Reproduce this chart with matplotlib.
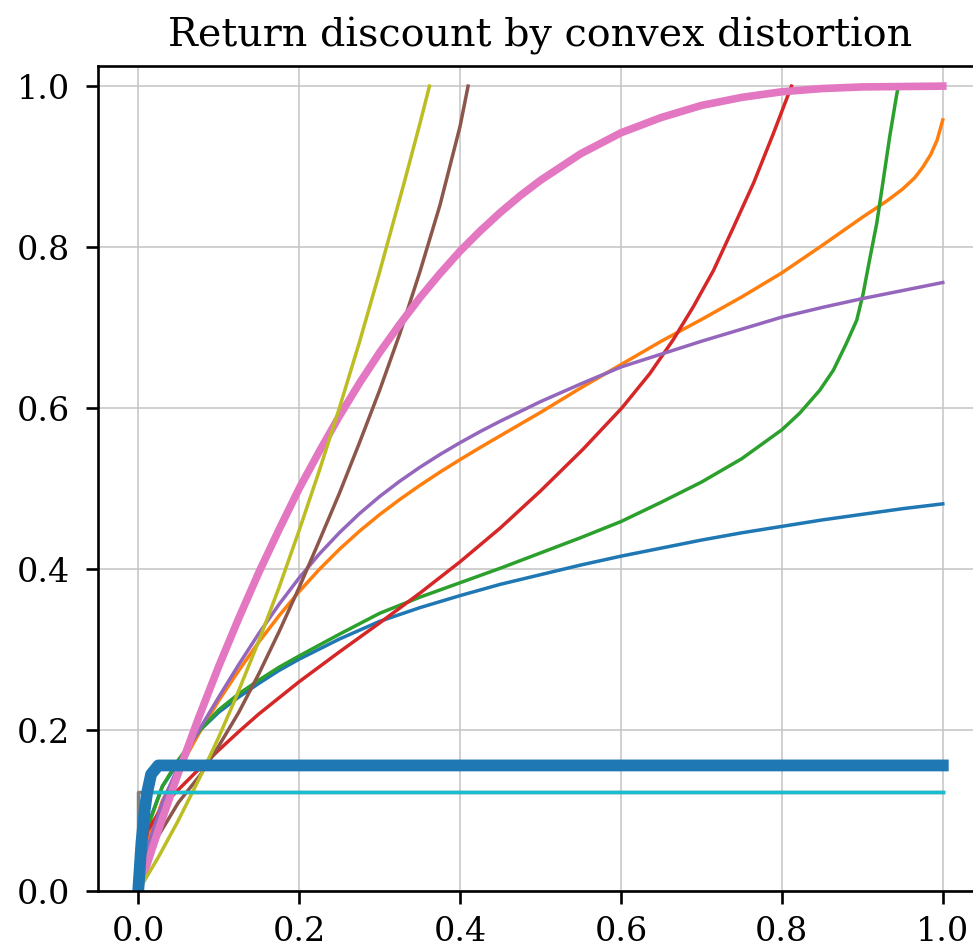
import matplotlib
matplotlib.use("Agg")
import matplotlib.pyplot as plt

# ---- data ----
blue_x = [0, 0.005, 0.015, 0.03, 0.05, 0.077, 0.1, 0.125, 0.15, 0.175, 0.2, 0.25, 0.3, 0.35,
          0.4, 0.45, 0.5, 0.55, 0.6, 0.65, 0.7, 0.75, 0.8, 0.85, 0.9, 0.95, 1.0]
blue_y = [0, 0.05, 0.09, 0.13, 0.16, 0.2, 0.222, 0.241, 0.258, 0.274, 0.288, 0.313, 0.335,
          0.352, 0.367, 0.381, 0.393, 0.405, 0.416, 0.426, 0.436, 0.445, 0.453, 0.461, 0.468,
          0.475, 0.481]

orange_x = [0, 0.005, 0.015, 0.03, 0.05, 0.075, 0.1, 0.125, 0.15, 0.175, 0.2, 0.225, 0.25,
            0.275, 0.3, 0.325, 0.35, 0.375, 0.4, 0.425, 0.45, 0.5, 0.55, 0.6, 0.65, 0.7, 0.75,
            0.8, 0.85, 0.9, 0.93, 0.95, 0.965, 0.975, 0.985, 0.993, 1.0]
orange_y = [0, 0.035, 0.07, 0.112, 0.15, 0.195, 0.2365, 0.274, 0.3095, 0.342, 0.372, 0.3995,
            0.4245, 0.4471, 0.4676, 0.4864, 0.5039, 0.5204, 0.536, 0.551, 0.5656, 0.5946,
            0.625, 0.654, 0.683, 0.71, 0.738, 0.768, 0.802, 0.837, 0.857, 0.872, 0.886, 0.899,
            0.915, 0.933, 0.958]

green_x = [0, 0.005, 0.015, 0.03, 0.05, 0.077, 0.1, 0.125, 0.15, 0.175, 0.2, 0.25, 0.3, 0.35,
           0.4, 0.45, 0.5, 0.55, 0.6, 0.65, 0.7, 0.75, 0.8, 0.822, 0.847, 0.864, 0.88, 0.893,
           0.901, 0.909, 0.918, 0.926, 0.934, 0.943, 0.945]
green_y = [0, 0.05, 0.088, 0.13, 0.163, 0.2, 0.225, 0.245, 0.262, 0.278, 0.292, 0.319, 0.345,
           0.365, 0.383, 0.401, 0.42, 0.439, 0.459, 0.483, 0.508, 0.537, 0.573, 0.5935, 0.622,
           0.647, 0.68, 0.709, 0.742, 0.784, 0.83, 0.883, 0.937, 0.991, 1.0]

red_x = [0, 0.005, 0.012, 0.025, 0.041, 0.07, 0.1, 0.125, 0.15, 0.2, 0.25, 0.3, 0.35, 0.4,
         0.45, 0.5, 0.553, 0.601, 0.636, 0.665, 0.69, 0.715, 0.74, 0.765, 0.789, 0.812]
red_y = [0, 0.045, 0.075, 0.097, 0.117, 0.146, 0.175, 0.198, 0.22, 0.26, 0.297, 0.333, 0.37,
         0.409, 0.451, 0.497, 0.549, 0.6, 0.643, 0.685, 0.726, 0.771, 0.825, 0.88, 0.94, 1.0]

purple_x = [0, 0.005, 0.015, 0.03, 0.05, 0.075, 0.1, 0.125, 0.15, 0.175, 0.2, 0.225, 0.25,
            0.275, 0.3, 0.325, 0.35, 0.375, 0.4, 0.425, 0.45, 0.5, 0.55, 0.6, 0.65, 0.7, 0.75,
            0.8, 0.85, 0.9, 0.95, 1.0]
purple_y = [0, 0.03, 0.065, 0.11, 0.155, 0.199, 0.2408, 0.2814, 0.3201, 0.3561, 0.389, 0.4186,
            0.4451, 0.4689, 0.4901, 0.5091, 0.5264, 0.5423, 0.557, 0.5708, 0.5837, 0.608,
            0.63, 0.651, 0.667, 0.683, 0.698, 0.713, 0.725, 0.736, 0.746, 0.756]

brown_x = [0, 0.012, 0.027, 0.05, 0.077, 0.1, 0.125, 0.15, 0.175, 0.2, 0.225, 0.25, 0.275,
           0.3, 0.325, 0.35, 0.375, 0.4, 0.41]
brown_y = [0, 0.048, 0.072, 0.11, 0.144, 0.18, 0.222, 0.27, 0.322, 0.377, 0.435, 0.494,
           0.557, 0.622, 0.692, 0.769, 0.852, 0.95, 1.0]

pink_x = [0, 0.025, 0.05, 0.075, 0.1, 0.125, 0.15, 0.175, 0.2, 0.225, 0.25, 0.275, 0.3, 0.325,
          0.35, 0.375, 0.4, 0.425, 0.45, 0.475, 0.5, 0.55, 0.6, 0.65, 0.7, 0.75, 0.8, 0.85,
          0.9, 1.0]
pink_y = [0, 0.0755, 0.147, 0.215, 0.279, 0.339, 0.396, 0.449, 0.50, 0.546, 0.59, 0.631,
          0.669, 0.704, 0.737, 0.767, 0.795, 0.820, 0.843, 0.864, 0.883, 0.916, 0.942, 0.961,
          0.976, 0.986, 0.993, 0.997, 0.999, 1.0]

gray_x = [0, 0, 1.0]
gray_y = [0, 0.123, 0.123]

olive_x = [0, 0.025, 0.05, 0.079, 0.1, 0.12, 0.15, 0.175, 0.2, 0.225, 0.25, 0.275, 0.3, 0.33,
           0.35, 0.362]
olive_y = [0, 0.042, 0.088, 0.146, 0.191, 0.237, 0.311, 0.377, 0.448, 0.522, 0.6, 0.682, 0.769,
           0.878, 0.953, 1.0]

cyan_x = [0.015, 1.0]
cyan_y = [0.123, 0.123]

thick_x = [0, 0.004, 0.008, 0.011, 0.016, 0.025, 1.0]
thick_y = [0, 0.06, 0.1, 0.122, 0.145, 0.156, 0.156]

xticks = [0.0, 0.2, 0.4, 0.6, 0.8, 1.0]
yticks = [0.0, 0.2, 0.4, 0.6, 0.8, 1.0]
title = "Return discount by convex distortion"

# ---- style ----
plt.rcParams["font.family"] = ["DejaVu Serif"]
plt.rcParams["axes.linewidth"] = 1.9

fig = plt.figure(figsize=(9.73, 9.51), dpi=100)
ax = fig.add_axes([98 / 973, (951 - 891) / 951, (983 - 98) / 973, (891 - 66) / 951])

thin = 2.5
series = [
    (blue_x, blue_y, "C0", thin),
    (orange_x, orange_y, "C1", thin),
    (green_x, green_y, "C2", thin),
    (red_x, red_y, "C3", thin),
    (purple_x, purple_y, "C4", thin),
    (brown_x, brown_y, "C5", thin),
    (pink_x, pink_y, "C6", 5.5),
    (gray_x, gray_y, "C7", thin),
    (olive_x, olive_y, "C8", thin),
    (cyan_x, cyan_y, "C9", thin),
    (thick_x, thick_y, "C0", 8.5),
]
for xs, ys, c, lw in series:
    ax.plot(xs, ys, color=c, lw=lw)

ax.set_xlim(-0.05, 1.05)
ax.set_ylim(0, 1.025)
ax.set_xticks(xticks)
ax.set_yticks(yticks)
ax.set_xticklabels([f"{v:.1f}" for v in xticks])
ax.set_yticklabels([f"{v:.1f}" for v in yticks])
ax.grid(True, color="#c4c4c4", lw=1.1)
ax.tick_params(axis="both", which="major", labelsize=24, length=9, width=1.9)
ax.tick_params(axis="y", pad=11)
ax.tick_params(axis="x", pad=9)
ax.set_title(title, fontsize=28.5, pad=14)

fig.savefig("out.png", dpi=100)
